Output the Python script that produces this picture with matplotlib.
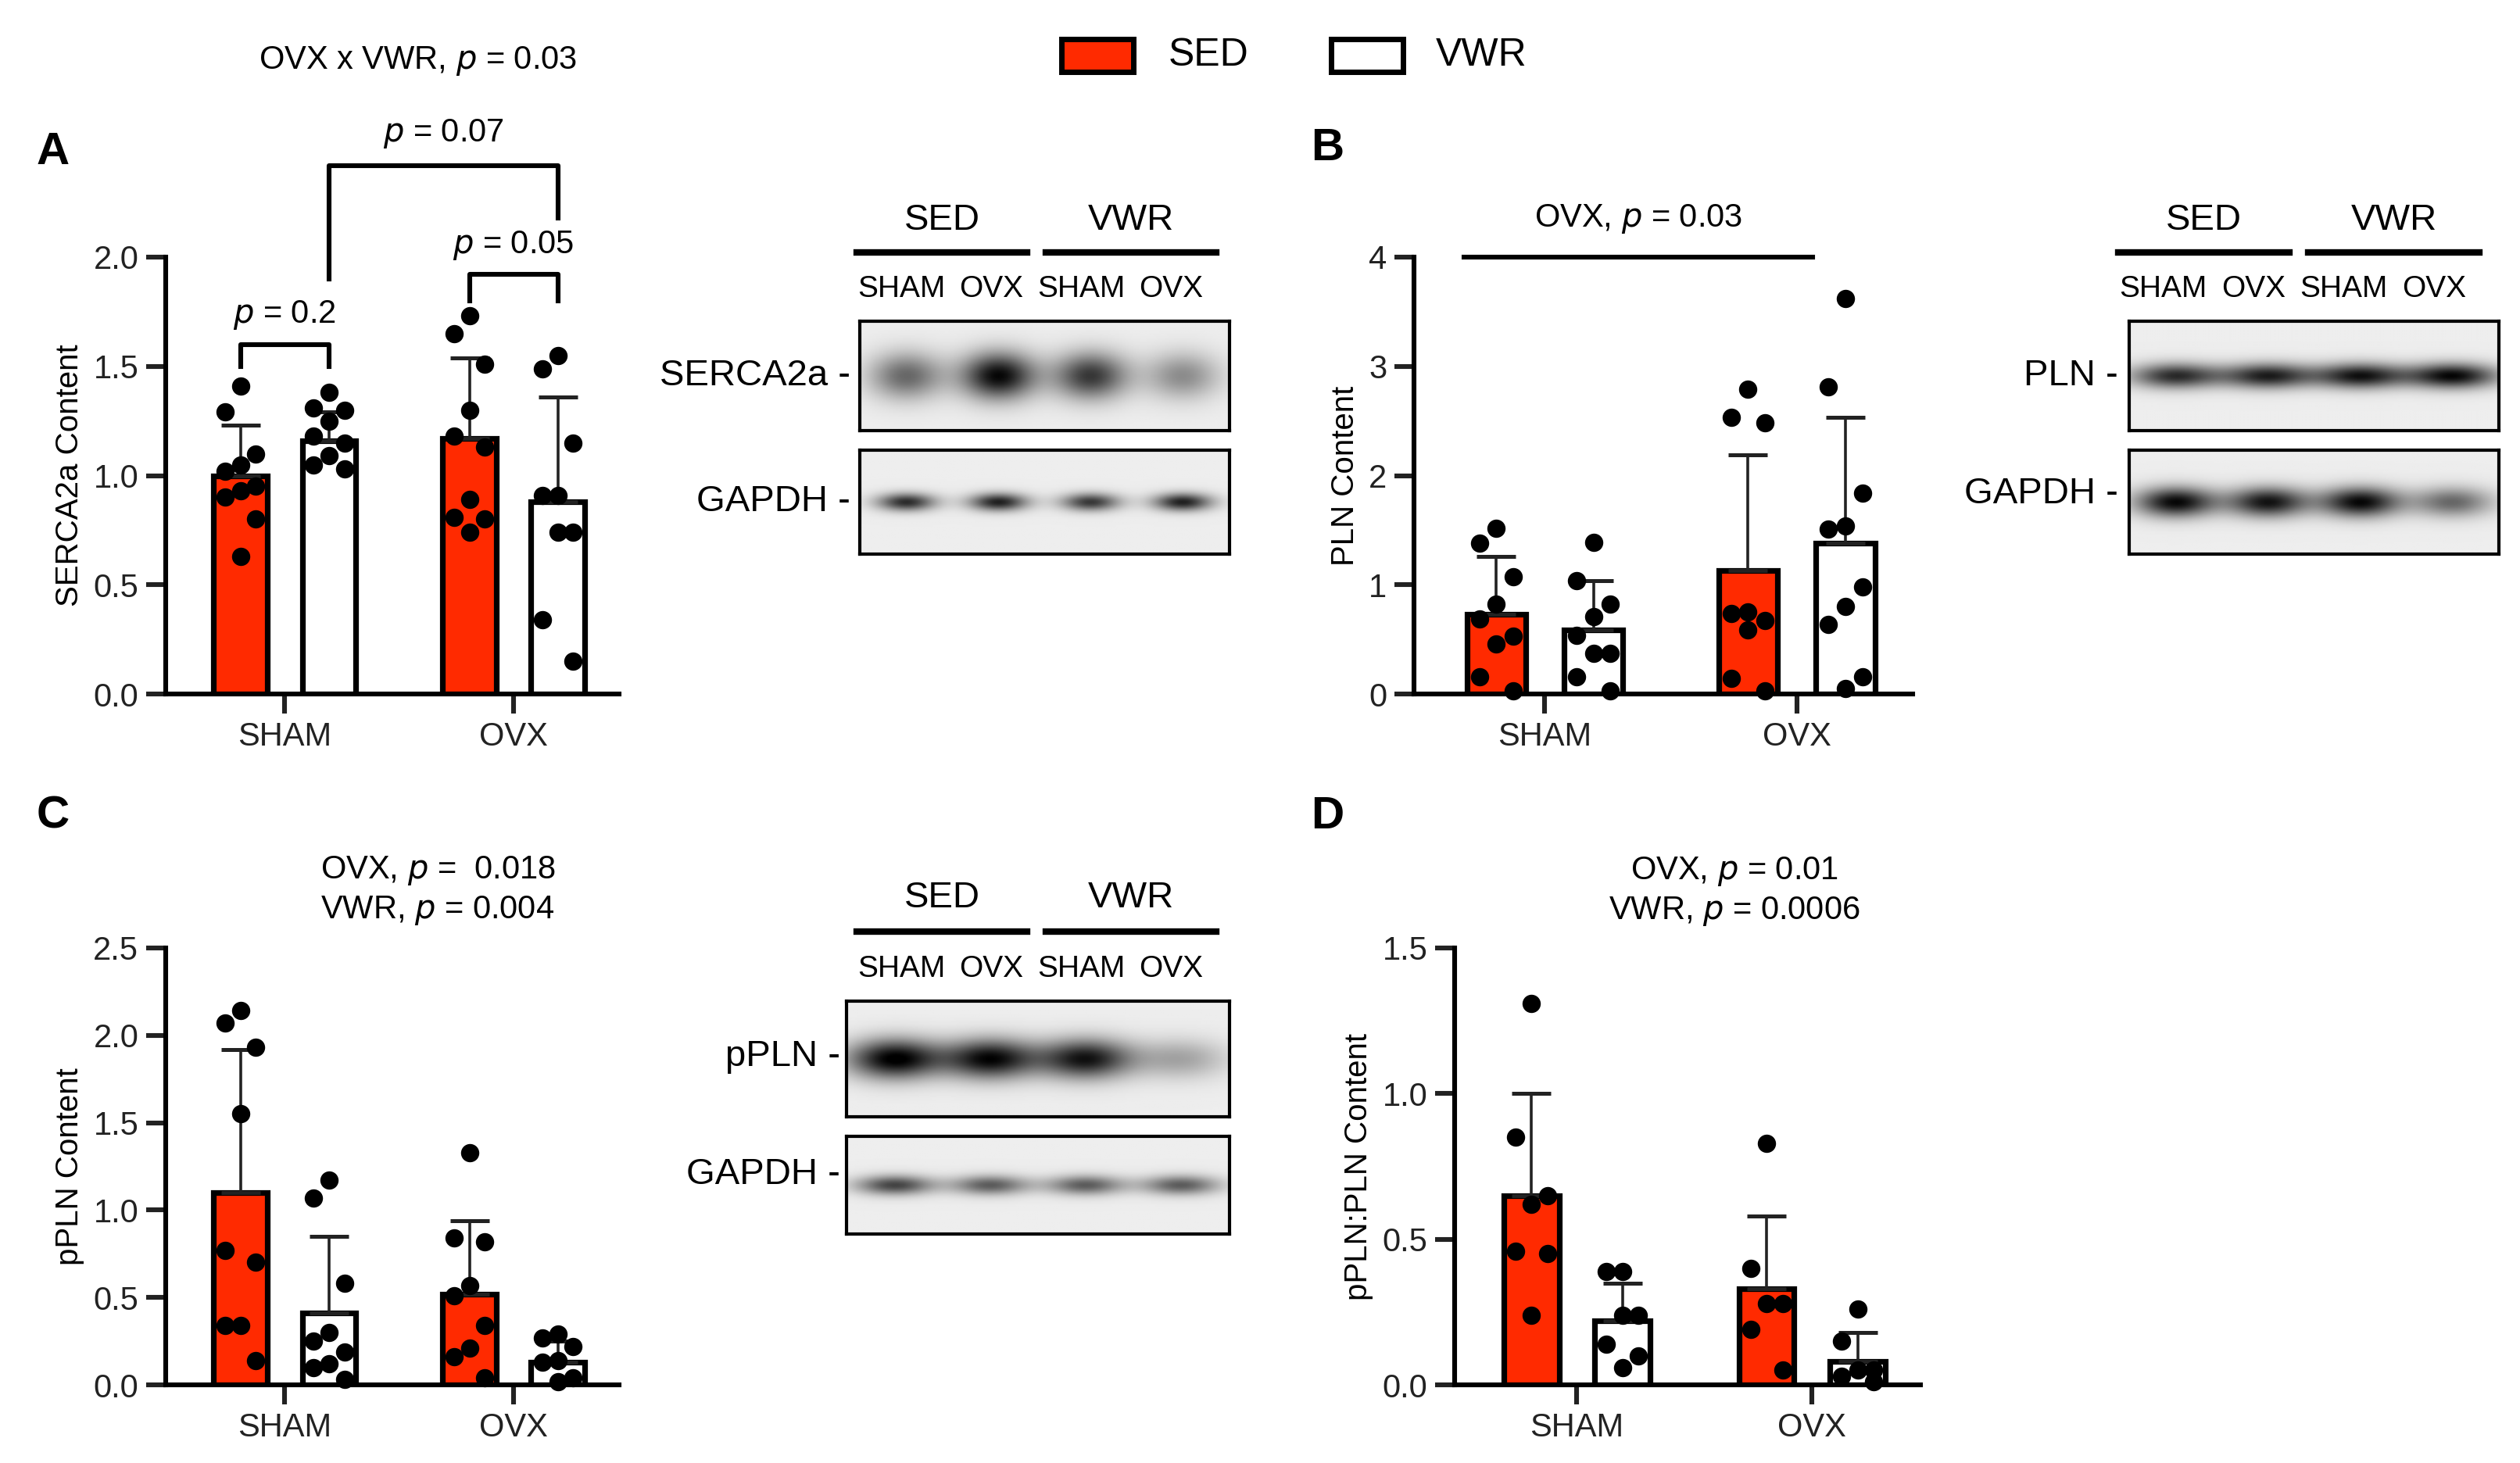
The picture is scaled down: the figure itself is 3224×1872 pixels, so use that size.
import numpy as np
import matplotlib
matplotlib.use("Agg")
import matplotlib.pyplot as plt
from matplotlib.patches import Rectangle

plt.rcParams['font.family'] = ['Liberation Sans', 'DejaVu Sans']

W, H = 3224, 1872
RED = '#ff2a00'

# --- Data ---
groups = ['SHAM', 'OVX']

a_mean = [1.00, 1.16, 1.17, 0.88]
a_sd = [0.23, 0.13, 0.37, 0.48]
a_pts = [
    [1.41, 1.29, 1.10, 1.05, 1.02, 0.95, 0.93, 0.90, 0.80, 0.63],
    [1.38, 1.31, 1.30, 1.25, 1.18, 1.15, 1.09, 1.05, 1.03],
    [1.73, 1.65, 1.51, 1.30, 1.18, 1.13, 0.89, 0.81, 0.80, 0.74],
    [1.55, 1.49, 1.15, 0.91, 0.91, 0.74, 0.74, 0.34, 0.15],
]
b_mean = [0.73, 0.59, 1.13, 1.38]
b_sd = [0.53, 0.45, 1.06, 1.15]
b_pts = [
    [1.52, 1.38, 1.07, 0.82, 0.69, 0.53, 0.46, 0.16, 0.03],
    [1.39, 1.04, 0.82, 0.71, 0.54, 0.37, 0.37, 0.16, 0.03],
    [2.79, 2.53, 2.48, 0.75, 0.74, 0.67, 0.59, 0.14, 0.03],
    [3.62, 2.81, 1.84, 1.54, 1.51, 0.98, 0.80, 0.64, 0.16, 0.05],
]
c_mean = [1.10, 0.41, 0.52, 0.13]
c_sd = [0.82, 0.44, 0.42, 0.12]
c_pts = [
    [2.14, 2.07, 1.93, 1.55, 0.77, 0.70, 0.34, 0.34, 0.14],
    [1.17, 1.07, 0.58, 0.30, 0.25, 0.19, 0.12, 0.10, 0.03],
    [1.33, 0.84, 0.82, 0.57, 0.51, 0.34, 0.21, 0.16, 0.04],
    [0.29, 0.27, 0.22, 0.14, 0.13, 0.04, 0.02],
]
d_mean = [0.65, 0.22, 0.33, 0.08]
d_sd = [0.35, 0.13, 0.25, 0.10]
d_pts = [
    [1.31, 0.85, 0.65, 0.62, 0.46, 0.45, 0.24],
    [0.39, 0.39, 0.24, 0.24, 0.14, 0.10, 0.06],
    [0.83, 0.40, 0.28, 0.28, 0.19, 0.05],
    [0.26, 0.15, 0.05, 0.05, 0.03, 0.01],
]

# blot band intensities per lane (SED SHAM, SED OVX, VWR SHAM, VWR OVX)
serca_bands = [0.55, 0.95, 0.75, 0.40]
gapdh_a_bands = [0.80, 0.85, 0.75, 0.85]
pln_bands = [0.80, 0.85, 0.90, 0.95]
gapdh_b_bands = [0.95, 0.90, 0.95, 0.55]
ppln_bands = [1.00, 0.95, 0.90, 0.30]
gapdh_c_bands = [0.70, 0.60, 0.60, 0.60]

lanes = ['SHAM', 'OVX', 'SHAM', 'OVX']

pos = [0.165, 0.36, 0.67, 0.865]
bw = 0.118


def px_axes(fig, x0, y0, x1, y1):
    return fig.add_axes([x0 / W, 1 - y1 / H, (x1 - x0) / W, (y1 - y0) / H])


def bar_panel(ax, mean, sd, pts, ylim, yticks, ylabel, ytfmt):
    for i in range(4):
        fc = RED if i % 2 == 0 else 'white'
        ax.bar(pos[i], mean[i], bw, color=fc, edgecolor='black', lw=2.6, zorder=2)
        ax.errorbar(pos[i], mean[i], yerr=[[0], [sd[i]]], color='#222', lw=1.3,
                    capsize=9, capthick=1.8, zorder=3)
        n = len(pts[i])
        offs = [(0 if k % 3 == 0 else (-0.034 if k % 3 == 1 else 0.034)) for k in range(n)]
        ax.scatter(np.array(offs) + pos[i], pts[i], s=55, color='black', zorder=4, clip_on=False)
    ax.set_xlim(0, 1)
    ax.set_ylim(*ylim)
    ax.set_yticks(yticks)
    ax.set_yticklabels([ytfmt.format(t) for t in yticks])
    ax.set_xticks([(pos[0] + pos[1]) / 2, (pos[2] + pos[3]) / 2])
    ax.set_xticklabels(groups)
    ax.set_ylabel(ylabel, fontsize=14.5)
    for s in ['top', 'right']:
        ax.spines[s].set_visible(False)
    for s in ['left', 'bottom']:
        ax.spines[s].set_linewidth(2.2)
    ax.tick_params(width=2.2, length=9, labelsize=15, colors='#222')


def blot(ax, bands, sx, sy, bg=0.93):
    nx, ny = 240, 70
    xx, yy = np.meshgrid(np.linspace(0, 4, nx), np.linspace(-1, 1, ny))
    img = np.full((ny, nx), bg)
    for i, b in enumerate(bands):
        img -= b * 0.95 * np.exp(-((xx - (i + 0.5)) ** 2) / (2 * sx ** 2) - (yy ** 2) / (2 * sy ** 2))
    ax.imshow(np.clip(img, 0, 1), cmap='gray', vmin=0, vmax=1, aspect='auto',
              interpolation='bilinear')
    ax.set_xticks([])
    ax.set_yticks([])
    for s in ax.spines.values():
        s.set_linewidth(1.5)


def blot_header(fig, x0, x1, y_txt, y_line, y_lane):
    mid = (x0 + x1) / 2
    for lo, hi, name in [(x0, mid - 12, 'SED'), (mid + 12, x1, 'VWR')]:
        fig.add_artist(plt.Line2D([lo / W, hi / W], [1 - y_line / H] * 2, color='black', lw=3))
        fig.text((lo + hi) / 2 / W, 1 - y_txt / H, name, ha='center', va='center', fontsize=17)
    step = (x1 - x0) / 4
    for i, l in enumerate(lanes):
        fig.text((x0 + step * (i + 0.5)) / W, 1 - y_lane / H, l, ha='center', va='center', fontsize=14)


fig = plt.figure(figsize=(W / 200, H / 200), dpi=200)

# Panel A
axA = px_axes(fig, 212, 329, 792, 888)
bar_panel(axA, a_mean, a_sd, a_pts, (0, 2.0), [0, 0.5, 1.0, 1.5, 2.0], 'SERCA2a Content', '{:.1f}')
kw = dict(color='black', lw=2.2, clip_on=False)
axA.plot([pos[0], pos[0], pos[1], pos[1]], [1.50, 1.60, 1.60, 1.50], **kw)
axA.text((pos[0] + pos[1]) / 2, 1.66, r'$p$ = 0.2', ha='center', va='bottom', fontsize=15)
axA.plot([pos[2], pos[2], pos[3], pos[3]], [1.80, 1.92, 1.92, 1.80], **kw)
axA.text((pos[2] + pos[3]) / 2, 1.98, r'$p$ = 0.05', ha='center', va='bottom', fontsize=15)
axA.plot([pos[1], pos[1], pos[3], pos[3]], [1.90, 2.42, 2.42, 2.18], **kw)
axA.text((pos[1] + pos[3]) / 2, 2.49, r'$p$ = 0.07', ha='center', va='bottom', fontsize=15)

# Panel B
axB = px_axes(fig, 1809, 329, 2447, 888)
bar_panel(axB, b_mean, b_sd, b_pts, (0, 4), [0, 1, 2, 3, 4], 'PLN Content', '{:.0f}')
axB.plot([0.10, 0.80], [4.0, 4.0], color='black', lw=2.2, clip_on=False)
axB.text(0.45, 4.2, r'OVX, $p$ = 0.03', ha='center', va='bottom', fontsize=15)

# Panel C
axC = px_axes(fig, 212, 1213, 792, 1772)
bar_panel(axC, c_mean, c_sd, c_pts, (0, 2.5), [0, 0.5, 1.0, 1.5, 2.0, 2.5], 'pPLN Content', '{:.1f}')
axC.text(0.60, 2.62, 'OVX, $p$ =  0.018\nVWR, $p$ = 0.004', ha='center', va='bottom',
         fontsize=15, linespacing=1.3)

# Panel D
axD = px_axes(fig, 1861, 1213, 2457, 1772)
bar_panel(axD, d_mean, d_sd, d_pts, (0, 1.5), [0, 0.5, 1.0, 1.5], 'pPLN:PLN Content', '{:.1f}')
axD.text(0.60, 1.57, 'OVX, $p$ = 0.01\nVWR, $p$ = 0.0006', ha='center', va='bottom',
         fontsize=15, linespacing=1.3)

# Blots
bA1 = px_axes(fig, 1100, 411, 1573, 551)
blot(bA1, serca_bands, 0.28, 0.30)
bA2 = px_axes(fig, 1100, 576, 1573, 709)
blot(bA2, gapdh_a_bands, 0.22, 0.12)
blot_header(fig, 1096, 1556, 282, 323, 370)
fig.text(1088 / W, 1 - 481 / H, 'SERCA2a -', ha='right', va='center', fontsize=17)
fig.text(1088 / W, 1 - 642 / H, 'GAPDH -', ha='right', va='center', fontsize=17)

bB1 = px_axes(fig, 2724, 411, 3197, 551)
blot(bB1, pln_bands, 0.34, 0.16)
bB2 = px_axes(fig, 2724, 576, 3197, 709)
blot(bB2, gapdh_b_bands, 0.30, 0.20)
blot_header(fig, 2710, 3172, 282, 323, 370)
fig.text(2710 / W, 1 - 481 / H, 'PLN -', ha='right', va='center', fontsize=17)
fig.text(2710 / W, 1 - 632 / H, 'GAPDH -', ha='right', va='center', fontsize=17)

bC1 = px_axes(fig, 1083, 1281, 1573, 1429)
blot(bC1, ppln_bands, 0.34, 0.24)
bC2 = px_axes(fig, 1083, 1454, 1573, 1579)
blot(bC2, gapdh_c_bands, 0.28, 0.14)
blot_header(fig, 1096, 1556, 1149, 1192, 1240)
fig.text(1075 / W, 1 - 1352 / H, 'pPLN -', ha='right', va='center', fontsize=17)
fig.text(1075 / W, 1 - 1503 / H, 'GAPDH -', ha='right', va='center', fontsize=17)

# Panel letters
for lx, ly, lt in [(68, 195, 'A'), (1698, 190, 'B'), (68, 1045, 'C'), (1698, 1045, 'D')]:
    fig.text(lx / W, 1 - ly / H, lt, ha='center', va='center', fontsize=21, fontweight='bold')

# Top title and legend
fig.text(535 / W, 1 - 78 / H, r'OVX x VWR, $p$ = 0.03', ha='center', va='center', fontsize=15)
fig.add_artist(Rectangle((1358 / W, 1 - 92 / H), 92 / W, 42 / H, facecolor=RED,
                         edgecolor='black', lw=2.5, transform=fig.transFigure))
fig.text(1495 / W, 1 - 71 / H, 'SED', ha='left', va='center', fontsize=18)
fig.add_artist(Rectangle((1703 / W, 1 - 92 / H), 92 / W, 42 / H, facecolor='white',
                         edgecolor='black', lw=2.5, transform=fig.transFigure))
fig.text(1837 / W, 1 - 71 / H, 'VWR', ha='left', va='center', fontsize=18)

fig.savefig('out.png', dpi=200)
